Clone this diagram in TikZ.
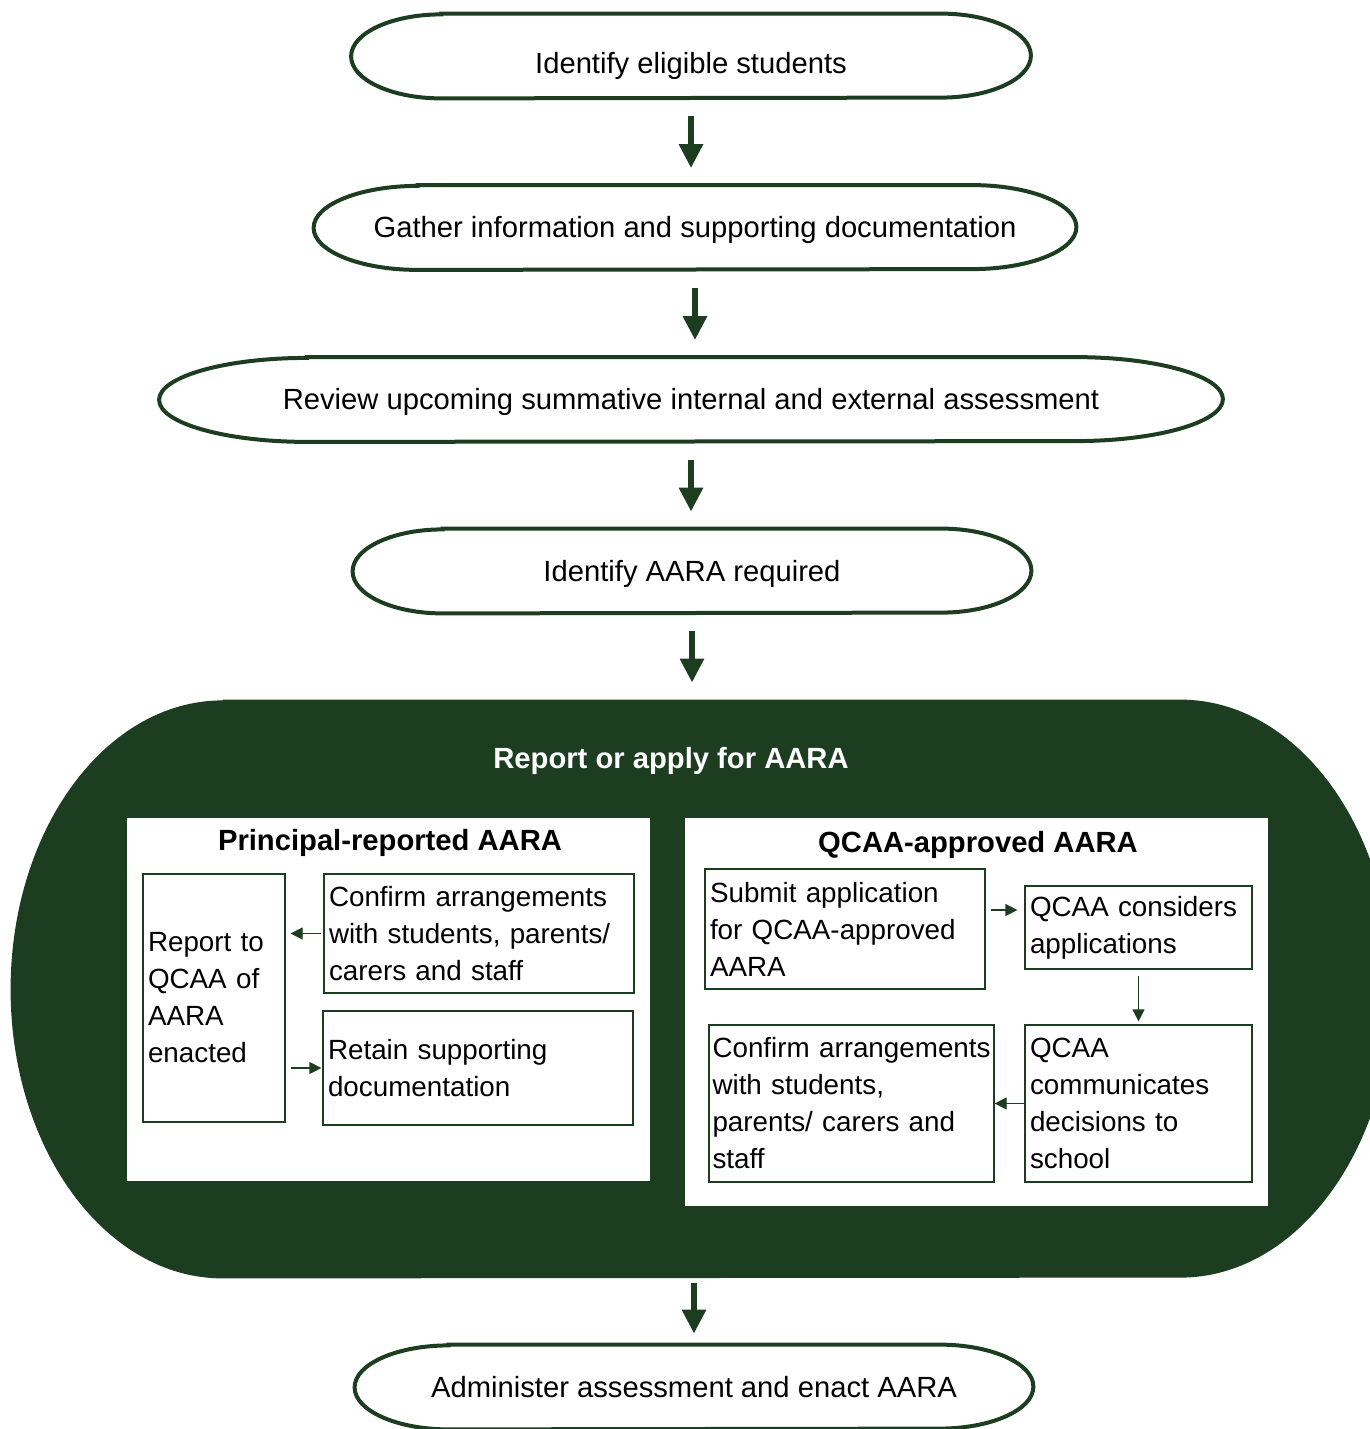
\documentclass[tikz,border=0pt]{standalone}
\usepackage{fontspec}
\setmainfont{Liberation Sans}
\usetikzlibrary{arrows.meta, calc, positioning}
\definecolor{qcaagreen}{RGB}{28, 61, 31}
\hyphenpenalty=10000

\tikzset{
  oval/.style={minimum height=42pt, inner sep=0pt, text height=10.45pt, text depth=0pt, font=\fontsize{14.6}{18}\selectfont},
  ovalline/.style={draw=qcaagreen, line width=2pt},
  panel/.style={fill=white, inner sep=0pt},
  panelhead/.style={inner sep=0pt, text height=10.45pt, text depth=0pt, font=\fontsize{14.6}{18}\selectfont\bfseries},
  stepbox/.style={draw=qcaagreen, line width=0.6pt, inner xsep=2.5pt, inner ysep=0pt, align=left, font=\fontsize{13.9}{18.5}\selectfont},
  bigarrow/.style={qcaagreen, line width=3pt, -{Triangle[length=12pt, width=11.5pt]}},
  smallarrow/.style={qcaagreen, line width=0.6pt, -{Triangle[length=6pt, width=6pt]}}
}
\newcommand{\ovalpath}[4]{%
  \path[#1] ([xshift=#3]#2.north west) -- ([xshift=-#3]#2.north east)
    arc[start angle=90, end angle=-90, x radius=#3, y radius=#4]
    -- ([xshift=#3]#2.south west)
    arc[start angle=270, end angle=90, x radius=#3, y radius=#4] -- cycle;}

\begin{document}
\begin{tikzpicture}[x=0.5pt, y=0.5pt]
  \useasboundingbox (0,0) rectangle (1370,-1429);
  \clip (0,0) rectangle (1370,-1429);

  \node[oval, minimum width=339.5pt] (ident) at (691,-56) {\raisebox{-3.5pt}[\height][\depth]{Identify eligible students}};
  \node[oval, minimum width=381pt] (gather) at (695,-227.5) {Gather information and supporting documentation};
  \node[oval, minimum width=531.5pt] (review) at (691,-399.5) {Review upcoming summative internal and external assessment};
  \node[oval, minimum width=339pt] (aara) at (692,-571) {Identify AARA required};
  \node[oval, minimum width=339pt] (admin) at (694,-1387) {Administer assessment and enact AARA};
  \ovalpath{ovalline}{ident}{45pt}{21pt}
  \ovalpath{ovalline}{gather}{52pt}{21pt}
  \ovalpath{ovalline}{review}{74pt}{21pt}
  \ovalpath{ovalline}{aara}{45pt}{21pt}
  \ovalpath{ovalline}{admin}{47pt}{21pt}

  \node[minimum width=690.5pt, minimum height=289pt, inner sep=0pt] (apply) at (701.5,-989) {};
  \ovalpath{fill=qcaagreen}{apply}{106pt}{144.5pt}
  \node[panelhead, text=white] (applyhead) at (671,-758) {Report or apply for AARA};

  \node[panel, minimum width=261.5pt, minimum height=181.5pt] (principal) at (388.5,-999.5) {};
  \node[panel, minimum width=291.5pt, minimum height=194pt] (qcaa) at (976.5,-1012) {};
  \node[panelhead] (principalhead) at (390,-840) {Principal-reported AARA};
  \node[panelhead] (qcaahead) at (978,-842) {QCAA-approved AARA};

  \node[stepbox, text width=66pt, minimum height=124pt] (report) at (214,-998) {Report to\\QCAA of\\AARA\\enacted};
  \node[stepbox, text width=150pt, minimum height=59.5pt] (confirmp) at (479,-933.5) {Confirm arrangements\\with students, parents/\\carers and staff};
  \node[stepbox, text width=150pt, minimum height=57pt] (retain) at (478,-1068) {Retain supporting\\documentation};

  \node[stepbox, text width=135pt, minimum height=60pt] (submit) at (845,-929) {Submit application\\for QCAA-approved\\AARA};
  \node[stepbox, text width=108.5pt, minimum height=41.5pt] (consid) at (1138.5,-927.5) {QCAA considers\\applications};
  \node[stepbox, text width=108.5pt, minimum height=78.5pt] (commun) at (1138.5,-1103.5) {QCAA\\communicates\\decisions to\\school};
  \node[stepbox, inner xsep=1.75pt, text width=139pt, minimum height=78.5pt] (confirmq) at (851.5,-1103.5) {\mbox{Confirm arrangements}\\with students,\\parents/ carers and\\staff};

  \foreach \from/\to in {ident/gather, gather/review, review/aara, aara/apply} {
    \draw[bigarrow, shorten <=9pt, shorten >=8.5pt] (\from.south) -- (\from.south |- \to.north);
  }
  \draw[bigarrow, shorten <=2.5pt, shorten >=5.5pt] (apply.south -| admin.north) -- (admin.north);

  \draw[smallarrow, shorten <=1pt, shorten >=2.5pt] (confirmp.west) -- (confirmp.west -| report.east);
  \draw[smallarrow, shorten <=2.5pt, shorten >=0.5pt] (report.east |- retain.west) -- (retain.west);
  \draw[smallarrow, shorten <=2.5pt, shorten >=3.5pt] ([yshift=9.5pt]submit.east) -- ([yshift=9.5pt]submit.east -| consid.west);
  \draw[smallarrow, shorten <=3pt, shorten >=1.5pt] (consid.south) -- (commun.north);
  \draw[smallarrow] (commun.west) -- (confirmq.east);
\end{tikzpicture}
\end{document}
